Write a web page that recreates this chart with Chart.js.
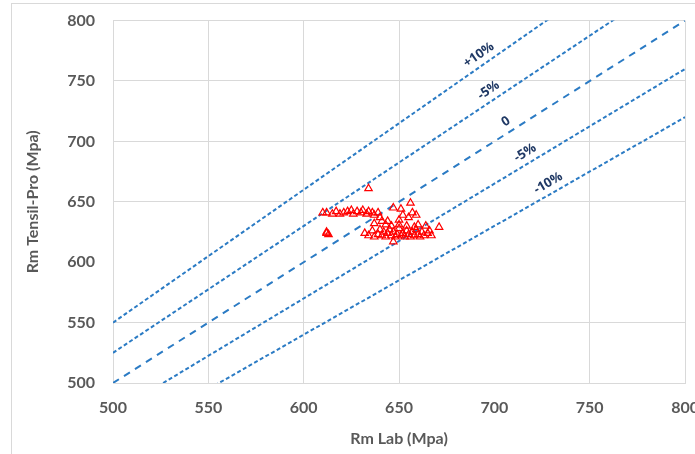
<!DOCTYPE html>
<html>
<head>
<meta charset="utf-8">
<script src="https://cdn.jsdelivr.net/npm/chart.js@4.4.1/dist/chart.umd.min.js"></script>
<style>
  html, body { margin: 0; padding: 0; background: #ffffff; overflow: hidden; }
  #frame { position: absolute; left: 11px; top: 3px; width: 720px; height: 500px; border: 1px solid #d9d9d9; }
  #rmChart { position: absolute; left: 0; top: -7px; }
</style>
</head>
<body>
<div id="frame"></div>
<canvas id="rmChart" width="714" height="461"></canvas>
<script>
// Rm measured in the lab vs Rm from Tensil-Pro (MPa)
const rmLab = [
  610, 612, 615, 617, 619, 621, 623, 625, 626, 628, 630, 631, 633, 634, 636, 637, 639, 640,
  634,
  647, 651, 656, 652, 655, 657, 659, 650, 644, 637, 641, 643,
  612, 613, 612,
  660, 664, 671, 666,
  632, 634, 636, 637, 639, 640, 641, 642, 643, 644, 645, 646, 647, 648, 649, 650, 651, 652,
  653, 654, 655, 656, 657, 658, 659, 660, 661, 662, 663, 665, 667, 646, 650, 654, 658,
  647
];
const rmTensilPro = [
  641, 641, 640, 642, 640, 641, 642, 643, 640, 642, 641, 643, 640, 642, 641, 639, 641, 637,
  661,
  645, 644, 649, 639, 637, 641, 639, 635, 634, 632, 634, 631,
  625, 623, 624,
  631, 630, 629, 626,
  624, 622, 626, 621, 623, 627, 622, 625, 621, 624, 627, 622, 625, 621, 623, 628, 622, 624,
  621, 626, 623, 621, 625, 622, 627, 623, 621, 625, 622, 624, 622, 630, 631, 630, 629,
  617
];

// deviation bands: Tensil-Pro = ratio * Lab
const bandRatios = [1.10, 1.05, 1.00, 0.95, 0.90];
const bandLabels = ['+10%', '-5%', '0', '-5%', '-10%'];
const bandLabelAt = [695, 700, 709, 719, 731];

const axisMin = 500;
const axisMax = 800;
const axisStep = 50;

const textGrey = '#595959';
const gridGrey = '#d9d9d9';
const bandBlue = '#2b7bc4';

const points = rmLab.map((x, i) => ({ x: x, y: rmTensilPro[i] }));

const bandSets = bandRatios.map((r, i) => ({
  type: 'line',
  label: bandLabels[i],
  data: [{ x: axisMin, y: r * axisMin }, { x: axisMax, y: r * axisMax }],
  borderColor: bandBlue,
  borderWidth: 2,
  borderDash: r === 1 ? [7, 6] : [4, 2.5],
  pointRadius: 0,
  fill: false,
  order: 2
}));

// write the band names along each dashed line
const bandLabelPlugin = {
  id: 'bandLabels',
  afterDatasetsDraw(chart) {
    const { ctx, scales: { x, y } } = chart;
    ctx.save();
    ctx.font = 'bold 13px "Open Sans"';
    ctx.fillStyle = '#1f3864';
    ctx.textAlign = 'center';
    ctx.textBaseline = 'bottom';
    bandRatios.forEach((r, i) => {
      const lx = bandLabelAt[i];
      const px = x.getPixelForValue(lx);
      const py = y.getPixelForValue(r * lx);
      const slope = (y.getPixelForValue(r * axisMin) - y.getPixelForValue(r * axisMax)) /
                    (x.getPixelForValue(axisMax) - x.getPixelForValue(axisMin));
      ctx.save();
      ctx.translate(px, py);
      ctx.rotate(-Math.atan(slope));
      ctx.fillText(bandLabels[i], 0, -4);
      ctx.restore();
    });
    ctx.restore();
  }
};

new Chart(document.getElementById('rmChart'), {
  type: 'scatter',
  data: {
    datasets: [
      {
        label: 'Rm',
        data: points,
        pointStyle: 'triangle',
        pointRadius: 4.3,
        borderColor: '#ff0000',
        backgroundColor: 'rgba(255,255,255,0)',
        borderWidth: 1.2,
        order: 1
      },
      ...bandSets
    ]
  },
  options: {
    responsive: false,
    animation: false,
    layout: { padding: { left: 0, right: 27, top: 16, bottom: 0 } },
    plugins: {
      legend: { display: false },
      tooltip: { enabled: false }
    },
    scales: {
      x: {
        type: 'linear',
        min: axisMin,
        max: axisMax,
        afterFit: (scale) => { scale.height = 71; },
        ticks: {
          stepSize: axisStep,
          padding: 15,
          color: textGrey,
          font: { family: 'Lato', size: 16, weight: 'bold' }
        },
        grid: {
          drawTicks: false,
          color: (c) => (c.tick && c.tick.value === 700 ? 'rgba(0,0,0,0)' : gridGrey)
        },
        border: { color: gridGrey },
        title: {
          display: true,
          text: 'Rm Lab (Mpa)',
          color: textGrey,
          font: { family: 'Lato', size: 16, weight: 'bold' },
          padding: { top: 0, bottom: 6 }
        }
      },
      y: {
        type: 'linear',
        min: axisMin,
        max: axisMax,
        afterFit: (scale) => { scale.width = 113; },
        ticks: {
          stepSize: axisStep,
          padding: 18,
          color: textGrey,
          font: { family: 'Lato', size: 16, weight: 'bold' }
        },
        grid: {
          drawTicks: false,
          color: (c) => (c.tick && c.tick.value === 600 ? 'rgba(0,0,0,0)' : gridGrey)
        },
        border: { color: gridGrey },
        title: {
          display: true,
          text: 'Rm Tensil-Pro (Mpa)',
          color: textGrey,
          font: { family: 'Lato', size: 16, weight: 'bold' },
          padding: { top: 23, bottom: 0 }
        }
      }
    }
  },
  plugins: [bandLabelPlugin]
});
</script>
</body>
</html>
